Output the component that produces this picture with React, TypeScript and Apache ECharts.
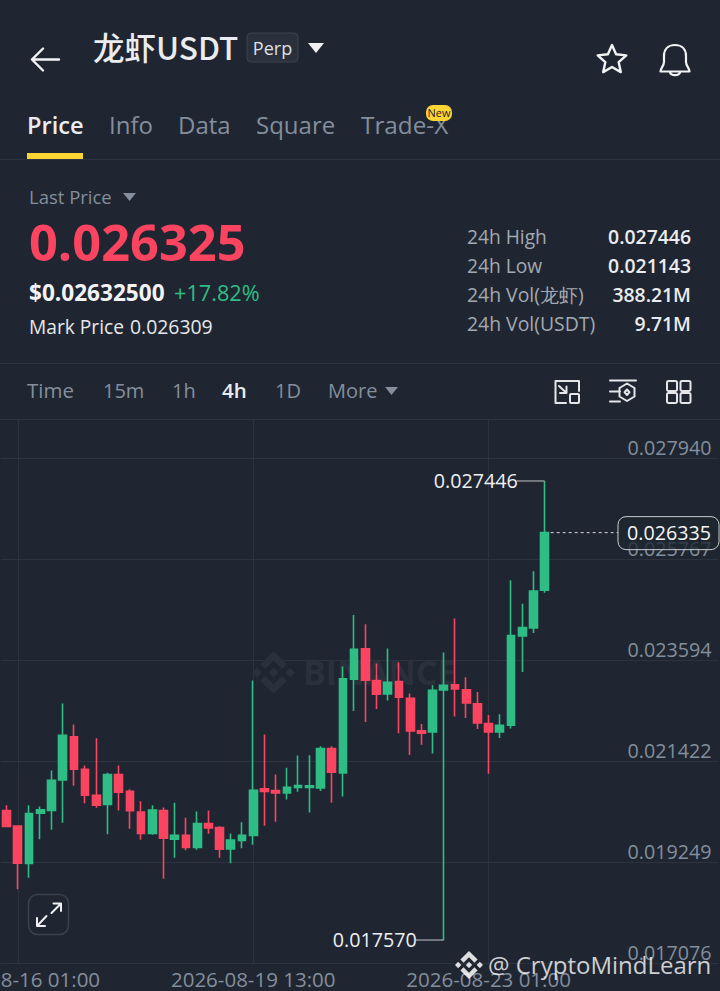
import React, { useEffect, useRef } from "react";
import * as echarts from "echarts";

const opens = [0.020357,0.020020,0.019217,0.020299,0.020357,0.021016,0.021941,0.021245,0.020686,0.020486,0.021131,0.020772,0.020321,0.019862,0.020357,0.019740,0.019826,0.019561,0.020077,0.019991,0.019532,0.019712,0.019819,0.020822,0.020787,0.020736,0.020851,0.020851,0.020844,0.021690,0.021166,0.023180,0.023833,0.023152,0.022865,0.023130,0.022772,0.022070,0.022048,0.022951,0.023059,0.022951,0.022650,0.022227,0.022048,0.022191,0.024112,0.024284,0.025094];
const closes = [0.020013,0.019224,0.020292,0.020371,0.021009,0.021976,0.021245,0.020686,0.020471,0.021131,0.020751,0.020350,0.019862,0.020364,0.019762,0.019826,0.019561,0.020077,0.019984,0.019525,0.019719,0.019826,0.020794,0.020765,0.020736,0.020858,0.020894,0.020887,0.021690,0.021181,0.023188,0.023825,0.023159,0.022858,0.023116,0.022793,0.022070,0.022019,0.022944,0.023051,0.022973,0.022672,0.022241,0.022048,0.022191,0.024119,0.024291,0.025080,0.026335];
const lows = [0.019998,0.018665,0.018909,0.019740,0.019941,0.020092,0.020887,0.020514,0.020414,0.019848,0.020357,0.019963,0.019726,0.019834,0.018888,0.019339,0.019504,0.019511,0.019855,0.019339,0.019224,0.019547,0.019618,0.020027,0.020113,0.020593,0.020758,0.020314,0.020779,0.020521,0.020658,0.022500,0.022263,0.022543,0.022722,0.022019,0.021553,0.021769,0.021582,0.017570,0.022378,0.022349,0.022112,0.021145,0.021919,0.022120,0.023338,0.024177,0.025044];
const highs = [0.020471,0.020020,0.020471,0.020443,0.021217,0.022657,0.022206,0.021324,0.021912,0.021167,0.021324,0.020815,0.020557,0.020471,0.020421,0.020522,0.020199,0.020335,0.020357,0.020020,0.019862,0.020106,0.023152,0.021991,0.021131,0.021274,0.021539,0.021546,0.021740,0.021740,0.023453,0.024564,0.024363,0.023517,0.023840,0.023546,0.022872,0.022220,0.023051,0.023754,0.024485,0.023223,0.022908,0.022413,0.022428,0.025309,0.024807,0.025502,0.027446];

const priceTicks = [0.017076, 0.019249, 0.021422, 0.023594, 0.025767, 0.02794];
const axisMin = 0.017076;
const axisMax = 0.028758;
const dateTickIndexes = [1, 22, 43];
const BAND_COUNT = 64;
const highValue = 0.027446;
const lowValue = 0.01757;
const lastValue = 0.026335;
const highIndex = 48;
const lowIndex = 39;
const lastIndex = 48;

const categories: string[] = [];
for (let i = 0; i < BAND_COUNT; i++) {
  const d = new Date(Date.UTC(2026, 7, 15, 21 + i * 4));
  const p = (n: number) => String(n).padStart(2, "0");
  categories.push(`${d.getUTCFullYear()}-${p(d.getUTCMonth() + 1)}-${p(d.getUTCDate())} ${p(d.getUTCHours())}:${p(d.getUTCMinutes())}`);
}

const BG = "#1f2631";
const GREEN = "#2ebd85";
const RED = "#fb4560";
const GREY = "#848e9c";
const LINE = "#2c333e";
const FONT = "'Open Sans'";

const reg = (name: string, d: string) => echarts.graphic.registerShape(name, echarts.graphic.extendPath(d, {}));
reg("bnLogo", "M38.73 53.2l24.59-24.58 24.6 24.6 14.3-14.31L63.32 0 24.43 38.89zM0 63.31l14.3-14.31 14.31 14.31-14.31 14.3zM38.73 73.41l24.59 24.59 24.6-24.6 14.31 14.29-38.9 38.91-38.91-38.88-.01-.01zM98.01 63.31l14.3-14.31 14.3 14.31-14.3 14.3zM77.83 63.3L63.32 48.78 52.59 59.51l-1.24 1.23-2.54 2.54 14.51 14.5 14.51-14.47z");
reg("backArrow", "M59 59.5H32M43 48.5L32 59.5L43 70.5");
reg("bell", "M675 45C667.5 45 664 50 664 56V62C664 66 660.5 68 660.5 71.5H689.5C689.5 68 686 66 686 62V56C686 50 682.5 45 675 45ZM670 72.5C671 76 679 76 680 72.5");
reg("iconA", "M566 403H555.5V381H579V391M559 386L566 392.5M566.5 386.5V393H560");
reg("iconB", "M610 380.5H636M610 391.5H620M610 401.5H620M627 383.5L634.5 388V396.5L627 401L619.5 396.5V388ZM627 389.5L629.5 392.2L627 395L624.5 392.2Z");
reg("expand", "M51.5 913L60.5 904M53.5 903.5H61V911M46.5 916L37.5 925.5M37 918V926H45");

function txt(x: number, y: number, text: string, size: number, fill: string, extra: any = {}) {
  const { weight, align, font, z } = extra;
  return {
    type: "text", x, y, z: z ?? 5, silent: true,
    style: { text, fill, fontSize: size, fontWeight: weight ?? 400, fontFamily: font ?? FONT, textAlign: align ?? "left", textVerticalAlign: "middle", verticalAlign: "middle" },
  };
}
const tri = (x1: number, x2: number, y1: number, y2: number, fill: string) => ({
  type: "polygon", z: 5, silent: true, shape: { points: [[x1, y1], [x2, y1], [(x1 + x2) / 2, y2]] }, style: { fill },
});
const hline = (y: number) => ({ type: "line", z: 1, silent: true, shape: { x1: 0, y1: y, x2: 720, y2: y }, style: { stroke: LINE, lineWidth: 1 } });
const stroke = (type: string, color = "#eef0f2", lineWidth = 2) => ({ type, z: 5, silent: true, x: 0, y: 0, style: { fill: "none", stroke: color, lineWidth, lineJoin: "round", lineCap: "round" } });

const graphics: any[] = [
  stroke("backArrow", "#f2f3f5", 2.4),
  txt(93, 46, "龙虾USDT", 31.5, "#eaecef", { weight: 500, font: "'Noto Sans CJK SC'" }),
  { type: "rect", z: 4, silent: true, shape: { x: 247, y: 33, width: 51, height: 29, r: 4 }, style: { fill: "#2a303c", stroke: "#3d4450", lineWidth: 1 } },
  txt(272.5, 47.5, "Perp", 18, "#dfe2e6", { align: "center" }),
  tri(308, 324, 43, 53, "#eef0f2"),
  { type: "polygon", z: 5, silent: true, shape: { points: [[612, 45], [616.1, 54.3], [626.3, 55.4], [618.7, 62.2], [620.8, 72.1], [612, 67], [603.2, 72.1], [605.3, 62.2], [597.7, 55.4], [607.9, 54.3]] }, style: { fill: "none", stroke: "#f2f3f5", lineWidth: 2.4, lineJoin: "round" } },
  stroke("bell", "#f2f3f5", 2.2),
  txt(27, 124.5, "Price", 23.6, "#eaecef", { weight: 600 }),
  txt(109, 124.5, "Info", 24, GREY),
  txt(178, 124.5, "Data", 24, GREY),
  txt(256, 124.5, "Square", 24, GREY),
  txt(361, 124.5, "Trade-X", 24.3, GREY),
  { type: "rect", z: 6, silent: true, shape: { x: 426, y: 105, width: 26, height: 16, r: 7 }, style: { fill: "#fcd535" } },
  txt(439, 112.5, "New", 11, "#1e2329", { align: "center", z: 7 }),
  { type: "rect", z: 5, silent: true, shape: { x: 27, y: 153, width: 56, height: 6 }, style: { fill: "#fcd535" } },
  hline(159.5),
  txt(29, 196, "Last Price", 18.5, GREY),
  tri(123, 136, 193, 201, GREY),
  txt(29, 241.5, "0.026325", 50.5, RED, { weight: 700 }),
  txt(29, 292, "$0.02632500", 22.6, "#f2f3f5", { weight: 700 }),
  txt(174, 292, "+17.82%", 21.7, GREEN),
  txt(29, 326.5, "Mark Price", 19.2, "#e6e8ea"),
  txt(130, 326.5, "0.026309", 19.4, "#e6e8ea"),
  txt(467, 236.5, "24h High", 19.2, "#a3a9b2"),
  txt(467, 265.5, "24h Low", 19.2, "#a3a9b2"),
  txt(467, 294, "24h Vol(龙虾)", 19.4, "#a3a9b2"),
  txt(467, 323, "24h Vol(USDT)", 19.4, "#a3a9b2"),
  txt(691, 236.5, "0.027446", 19.4, "#eaecef", { align: "right", weight: 600 }),
  txt(691, 265.5, "0.021143", 19.4, "#eaecef", { align: "right", weight: 600 }),
  txt(691, 294, "388.21M", 19.4, "#eaecef", { align: "right", weight: 600 }),
  txt(691, 323, "9.71M", 19.4, "#eaecef", { align: "right", weight: 600 }),
  hline(363.5),
  txt(27, 390, "Time", 20.5, GREY),
  txt(103, 390, "15m", 20, GREY),
  txt(172, 390, "1h", 20, GREY),
  txt(222, 390, "4h", 20.5, "#eaecef", { weight: 600 }),
  txt(275, 390, "1D", 20, GREY),
  txt(328, 390, "More", 20, GREY),
  tri(385, 398, 387, 395, GREY),
  stroke("iconA", "#e4e6e9", 2),
  { type: "rect", z: 5, silent: true, shape: { x: 570, y: 394, width: 9, height: 9, r: 1 }, style: { fill: "none", stroke: "#e4e6e9", lineWidth: 2 } },
  stroke("iconB", "#e4e6e9", 2),
  ...[[667, 381], [680.5, 381], [667, 393], [680.5, 393]].map(([x, y]) => ({ type: "rect", z: 5, silent: true, shape: { x, y, width: 10, height: 10, r: 1.5 }, style: { fill: "none", stroke: "#e4e6e9", lineWidth: 2 } })),
  hline(419.5),
  { type: "bnLogo", z: 1, silent: true, x: 252, y: 651, scaleX: 43 / 126.6, scaleY: 43 / 126.6, style: { fill: "#2a313c" } },
  txt(303, 672, "BINANCE", 34, "#2a313c", { weight: 700, z: 1 }),
  { type: "rect", z: 5, silent: true, shape: { x: 28.5, y: 894.5, width: 40, height: 40, r: 9 }, style: { fill: "none", stroke: "#3a414d", lineWidth: 1.5 } },
  stroke("expand", "#eef0f2", 2),
  { type: "bnLogo", z: 20, silent: true, x: 455, y: 951, scaleX: 28 / 126.6, scaleY: 28 / 126.6, style: { fill: "rgba(255,255,255,0.85)" } },
  txt(488, 964, "@ CryptoMindLearn", 24, "rgba(255,255,255,0.78)", { z: 20 }),
];

const annotations = [
  [highIndex, highValue, 0],
  [lowIndex, lowValue, 1],
  [lastIndex, lastValue, 2],
];

function renderAnnotation(_params: any, api: any) {
  const p = api.coord([api.value(0), api.value(1)]);
  const kind = api.value(2);
  const label = Number(api.value(1)).toFixed(6);
  if (kind < 2) {
    return {
      type: "group",
      children: [
        { type: "line", shape: { x1: p[0] - 28, y1: p[1], x2: p[0], y2: p[1] }, style: { stroke: "#a9adb3", lineWidth: 1.2 } },
        { type: "text", x: p[0] - 27, y: p[1] - 0.5, style: { text: label, fill: "#eef0f2", fontSize: 19.7, fontFamily: FONT, textAlign: "right", textVerticalAlign: "middle", verticalAlign: "middle" } },
      ],
    };
  }
  return {
    type: "group",
    children: [
      { type: "line", shape: { x1: p[0] + 6, y1: p[1], x2: 618, y2: p[1] }, style: { stroke: "#d5d8dc", lineWidth: 1, lineDash: [3, 3] } },
      { type: "rect", shape: { x: 618, y: p[1] - 16, width: 101, height: 33, r: 8 }, style: { fill: "rgba(31,38,49,0.78)", stroke: "#c9ccd1", lineWidth: 1 } },
      { type: "text", x: 711, y: p[1], style: { text: label, fill: "#f5f6f7", fontSize: 19.7, fontFamily: FONT, textAlign: "right", textVerticalAlign: "middle", verticalAlign: "middle" } },
    ],
  };
}

export default function App() {
  const ref = useRef<HTMLDivElement>(null);
  useEffect(() => {
    const chart = echarts.init(ref.current!, undefined, { renderer: "svg" });
    chart.setOption({
      animation: false,
      backgroundColor: BG,
      graphic: { elements: graphics },
      grid: { left: 1, top: 420, width: 717.44, height: 543, containLabel: false, outerBoundsMode: "none" },
      xAxis: {
        type: "category",
        data: categories,
        boundaryGap: true,
        axisLine: { show: true, lineStyle: { color: LINE, width: 1 } },
        axisTick: { show: false, alignWithLabel: true },
        axisLabel: {
          color: GREY, fontSize: 20.5, fontFamily: FONT, margin: 5, hideOverlap: false,
          interval: (i: number) => dateTickIndexes.includes(i),
        },
        splitLine: {
          show: true, alignWithLabel: true,
          interval: (i: number) => dateTickIndexes.includes(i),
          lineStyle: { color: LINE, width: 1 },
        },
      },
      yAxis: {
        type: "value",
        position: "right",
        min: axisMin,
        max: axisMax,
        axisLine: { show: false },
        axisTick: { show: false, customValues: priceTicks },
        axisLabel: {
          inside: true, customValues: priceTicks, color: GREY, fontSize: 19.7, fontFamily: FONT, margin: 7,
          verticalAlign: "bottom", lineHeight: 21, formatter: (v: number) => v.toFixed(6),
        },
        splitLine: { show: true, customValues: priceTicks, lineStyle: { color: LINE, width: 1 } },
      },
      series: [
        {
          type: "candlestick",
          barWidth: 8.2,
          itemStyle: { color: GREEN, color0: RED, borderColor: GREEN, borderColor0: RED, borderWidth: 1.6 },
          data: opens.map((o, i) => [o, closes[i], lows[i], highs[i]]),
          z: 3,
        },
        {
          type: "custom",
          renderItem: renderAnnotation,
          data: annotations,
          encode: { x: 0, y: 1 },
          z: 4,
          silent: true,
        },
      ],
    });
    return () => chart.dispose();
  }, []);
  return <div ref={ref} style={{ position: "absolute", left: 0, top: 0, width: 720, height: 991 }} />;
}
